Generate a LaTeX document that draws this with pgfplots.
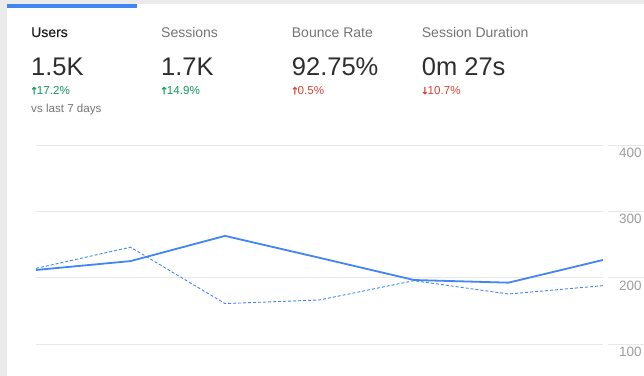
\documentclass[border=0pt]{standalone}
\usepackage{pgfplots}
\pgfplotsset{compat=1.18}
\usepackage{fontspec}
\setmainfont{Liberation Sans}
\newfontfamily\symfont[FakeBold=1.2]{DejaVu Sans}
\newfontfamily\medfont[FakeBold=0.5]{Liberation Sans}
\definecolor{gablue}{HTML}{4285F4}
\definecolor{bggray}{HTML}{EBEBEB}
\definecolor{gridcol}{HTML}{E8E8E8}
\definecolor{textdark}{HTML}{212121}
\definecolor{bigtext}{HTML}{2E2E2E}
\definecolor{textgray}{HTML}{757575}
\definecolor{tickgray}{HTML}{9E9E9E}
\definecolor{upgreen}{HTML}{0F9D58}
\definecolor{downred}{HTML}{DB4437}
\newcommand{\hdrf}{\fontsize{14bp}{16bp}\selectfont}
\newcommand{\bigf}{\fontsize{25.5bp}{28bp}\selectfont}
\newcommand{\smlf}{\fontsize{11.6bp}{13bp}\selectfont}
\newcommand{\uparr}{{\symfont\fontsize{10bp}{12bp}\selectfont\kern-1.2bp↑\kern-1.4bp}}
\newcommand{\dnarr}{{\symfont\fontsize{10bp}{12bp}\selectfont\kern-1.2bp↓\kern-1.4bp}}
\begin{document}
\begin{tikzpicture}
\useasboundingbox (0,0) rectangle (644bp,-376bp);
\fill[bggray] (0,0) rectangle (644bp,-376bp);
\fill[white] (7bp,-4bp) rectangle (644bp,-376bp);
\fill[gablue] (7bp,-4bp) rectangle (137bp,-7.5bp);
% headers
\node[anchor=base west,inner sep=0,text=textdark,font=\hdrf\medfont] at (31bp,-37bp) {Users};
\node[anchor=base west,inner sep=0,text=textgray,font=\hdrf] at (161bp,-37bp) {Sessions};
\node[anchor=base west,inner sep=0,text=textgray,font=\hdrf] at (291.7bp,-37bp) {Bounce Rate};
\node[anchor=base west,inner sep=0,text=textgray,font=\hdrf] at (421.7bp,-37bp) {Session Duration};
% big values
\node[anchor=base west,inner sep=0,text=bigtext,font=\bigf] at (31bp,-75bp) {1.5K};
\node[anchor=base west,inner sep=0,text=bigtext,font=\bigf] at (161bp,-75bp) {1.7K};
\node[anchor=base west,inner sep=0,text=bigtext,font=\bigf] at (291.7bp,-75bp) {92.75\%};
\node[anchor=base west,inner sep=0,text=bigtext,font=\bigf] at (421.7bp,-75bp) {0m 27s};
% changes
\node[anchor=base west,inner sep=0,text=upgreen,font=\smlf] at (31bp,-94.3bp) {\uparr17.2\%};
\node[anchor=base west,inner sep=0,text=upgreen,font=\smlf] at (161bp,-94.3bp) {\uparr14.9\%};
\node[anchor=base west,inner sep=0,text=downred,font=\smlf] at (291.7bp,-94.3bp) {\uparr0.5\%};
\node[anchor=base west,inner sep=0,text=downred,font=\smlf] at (421.7bp,-94.3bp) {\dnarr10.7\%};
\node[anchor=base west,inner sep=0,text=textgray,font=\smlf] at (31bp,-112.7bp) {vs last 7 days};
\begin{axis}[
  at={(36bp,-376bp)}, anchor=south west,
  scale only axis, width=567bp, height=231bp,
  xmin=0, xmax=6, ymin=51.8, ymax=400,
  xtick=\empty, ytick={100,200,300,400},
  ymajorgrids, grid style={gridcol, line width=1bp},
  axis line style={draw=none},
  major tick length=0pt,
  yticklabel pos=right,
  yticklabel style={anchor=north west, inner sep=0pt, xshift=16bp, yshift=-3bp,
    font=\fontsize{13.5bp}{15bp}\selectfont, text=tickgray},
  /pgf/number format/assume math mode=true,
  clip=false,
]
\pgfplotsinvokeforeach{100,200,300,400}{
  \draw[gridcol, line width=1bp] ([xshift=5bp]axis cs:6,#1) -- ([xshift=41bp]axis cs:6,#1);
}
\addplot[gablue, line width=0.9bp, dash pattern=on 3bp off 2bp] coordinates {
  (0,214) (1,246) (2,161) (3,166.4) (4,195.5) (5,175.4) (6,188)
};
\addplot[gablue, line width=1.8bp] coordinates {
  (0,211.6) (1,225) (2,263) (3,230) (4,196.5) (5,192.5) (6,226.7)
};
\end{axis}
\end{tikzpicture}
\end{document}
